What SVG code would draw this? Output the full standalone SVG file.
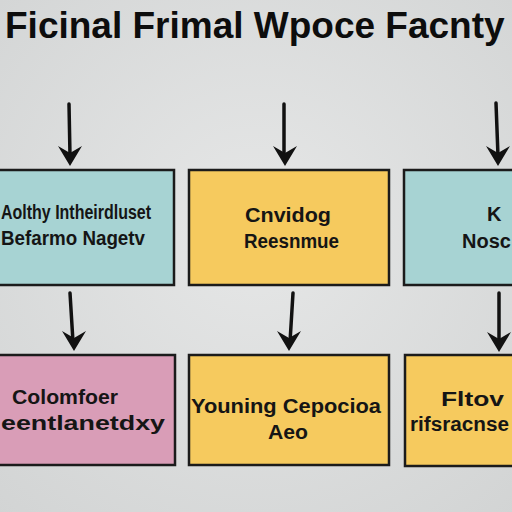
<svg xmlns="http://www.w3.org/2000/svg" width="512" height="512" viewBox="0 0 512 512">
<defs>
<radialGradient id="bg" cx="50%" cy="45%" r="75%">
<stop offset="0" stop-color="#e6e7e7"/>
<stop offset="1" stop-color="#d2d4d4"/>
</radialGradient>
<path id="head" d="M-12,-20 L0,0 L12,-20 L0,-13 Z" fill="#111"/>
</defs>
<style>
.box{stroke:#1b1b1b;stroke-width:2.5}
.teal{fill:#a7d3d3}
.yel{fill:#f6ca5e}
.pink{fill:#d99db7}
.t{font-family:"Liberation Sans",Arial,sans-serif;font-weight:bold;fill:#151515;font-size:20px}
.title{font-family:"Liberation Sans",Arial,sans-serif;font-weight:bold;fill:#0d0d0d;font-size:37px}
.arr{stroke:#111;stroke-width:3.5;fill:none;stroke-linecap:round}
</style>
<rect width="512" height="512" fill="url(#bg)"/>
<text class="title" x="5" y="38">Ficinal Frimal Wpoce Facnty</text>
<g id="connectors">
<path class="arr" d="M69,104 L70,156"/>
<use href="#head" x="70" y="166"/>
<path class="arr" d="M284,104 L284,156"/>
<use href="#head" x="285" y="166"/>
<path class="arr" d="M496,103 L498,156"/>
<use href="#head" x="498" y="166"/>
<path class="arr" d="M70,293 L73,342"/>
<use href="#head" x="74" y="351"/>
<path class="arr" d="M293,293 L290,342"/>
<use href="#head" x="289" y="351"/>
<path class="arr" d="M499,293 L499,342"/>
<use href="#head" x="499" y="352"/>
</g>
<g id="n1">
<rect class="box teal" x="-5" y="170" width="179" height="115"/>
<text class="t" x="1" y="219" textLength="150" lengthAdjust="spacingAndGlyphs">Aolthy Intheirdluset</text>
<text class="t" x="1" y="245" textLength="144" lengthAdjust="spacingAndGlyphs">Befarmo Nagetv</text>
</g>
<g id="n2">
<rect class="box yel" x="189" y="170" width="200" height="115"/>
<text class="t" x="245" y="222" textLength="86" lengthAdjust="spacingAndGlyphs">Cnvidog</text>
<text class="t" x="244" y="248" textLength="95" lengthAdjust="spacingAndGlyphs">Reesnmue</text>
</g>
<g id="n3">
<rect class="box teal" x="404" y="170" width="115" height="115"/>
<text class="t" x="487" y="221">K</text>
<text class="t" x="462" y="248">Nosc</text>
</g>
<g id="n4">
<rect class="box pink" x="-5" y="355" width="180" height="110"/>
<text class="t" x="12" y="404" textLength="106" lengthAdjust="spacingAndGlyphs">Colomfoer</text>
<text class="t" x="1" y="430" textLength="164" lengthAdjust="spacingAndGlyphs">eentlanetdxy</text>
</g>
<g id="n5">
<rect class="box yel" x="189" y="355" width="200" height="110"/>
<text class="t" x="191" y="413" textLength="190" lengthAdjust="spacingAndGlyphs">Youning Cepocioa</text>
<text class="t" x="268" y="439" textLength="40" lengthAdjust="spacingAndGlyphs">Aeo</text>
</g>
<g id="n6">
<rect class="box yel" x="405" y="355" width="115" height="111"/>
<text class="t" x="441" y="406" textLength="63" lengthAdjust="spacingAndGlyphs">Fltov</text>
<text class="t" x="410" y="431" textLength="99" lengthAdjust="spacingAndGlyphs">rifsracnse</text>
</g>
</svg>
